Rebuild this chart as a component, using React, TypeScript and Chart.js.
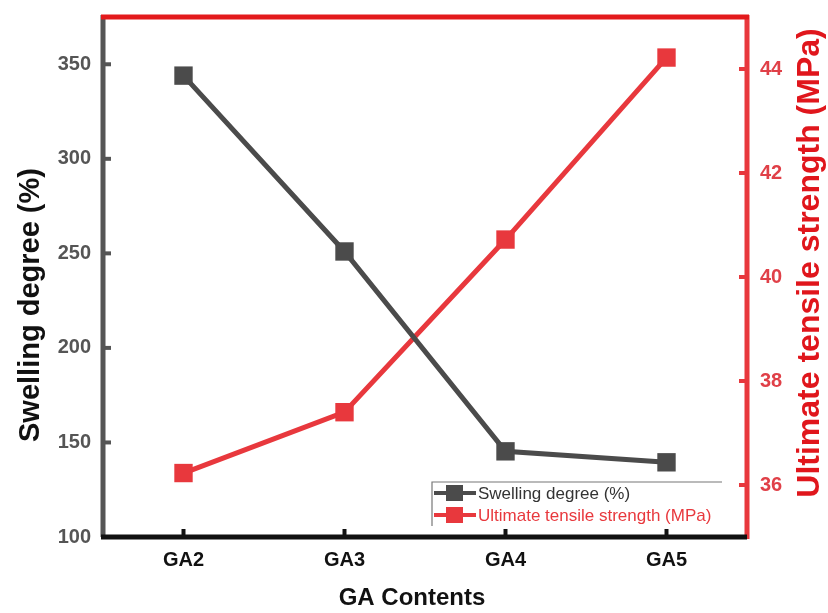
import React, { useEffect, useRef } from "react";
import { Chart, registerables } from "chart.js";

Chart.register(...registerables);

const categories = ["GA2", "GA3", "GA4", "GA5"];
const swellingDegree = [344, 251, 145.3, 139.5];
const tensileStrength = [36.23, 37.4, 40.72, 44.22];
const leftTicks = [100, 150, 200, 250, 300, 350];
const rightTicks = [36, 38, 40, 42, 44];

const GRAY = "#4b4b4b";
const RED = "#e8383d";
const FONT = "'Liberation Sans', Arial, sans-serif";

const decor = {
  id: "decor",
  afterDraw(chart: any) {
    const { ctx, chartArea: a, scales } = chart;
    const x = scales.x, y = scales.y, y1 = scales.y1;
    ctx.save();
    // tick marks (inward)
    ctx.lineWidth = 4;
    ctx.strokeStyle = "#555";
    y.ticks.forEach((t: any) => {
      const py = y.getPixelForValue(t.value);
      ctx.beginPath(); ctx.moveTo(a.left, py); ctx.lineTo(a.left + 8, py); ctx.stroke();
    });
    ctx.strokeStyle = RED;
    y1.ticks.forEach((t: any) => {
      const py = y1.getPixelForValue(t.value);
      ctx.beginPath(); ctx.moveTo(a.right, py); ctx.lineTo(a.right - 8, py); ctx.stroke();
    });
    ctx.strokeStyle = "#111";
    x.ticks.forEach((t: any, i: number) => {
      const px = x.getPixelForTick(i);
      ctx.beginPath(); ctx.moveTo(px, a.bottom); ctx.lineTo(px, a.bottom - 8); ctx.stroke();
    });
    // axis lines
    ctx.lineWidth = 5;
    ctx.strokeStyle = "#555";
    ctx.beginPath(); ctx.moveTo(a.left, a.top - 2); ctx.lineTo(a.left, a.bottom); ctx.stroke();
    ctx.strokeStyle = RED;
    ctx.beginPath(); ctx.moveTo(a.right, a.top - 2); ctx.lineTo(a.right, a.bottom + 2); ctx.stroke();
    ctx.strokeStyle = "#e31a1c";
    ctx.beginPath(); ctx.moveTo(a.left - 2, a.top); ctx.lineTo(a.right + 2, a.top); ctx.stroke();
    ctx.strokeStyle = "#111";
    ctx.beginPath(); ctx.moveTo(a.left - 2, a.bottom); ctx.lineTo(a.right, a.bottom); ctx.stroke();

    // axis titles
    ctx.textAlign = "center";
    ctx.textBaseline = "middle";
    ctx.fillStyle = "#111";
    ctx.font = `bold 29px ${FONT}`;
    ctx.save();
    ctx.translate(31, 305);
    ctx.rotate(-Math.PI / 2);
    ctx.fillText("Swelling degree (%)", 0, 0);
    ctx.restore();
    ctx.fillStyle = "#e0161c";
    ctx.font = `bold 32px ${FONT}`;
    ctx.save();
    ctx.translate(810, 263);
    ctx.rotate(-Math.PI / 2);
    ctx.fillText("Ultimate tensile strength (MPa)", 0, 0);
    ctx.restore();
    ctx.fillStyle = "#111";
    ctx.font = `bold 24px ${FONT}`;
    ctx.fillText("GA Contents", 412, 598);

    // legend
    const lx = 432, ly = 482, lw = 290;
    ctx.lineWidth = 1.2;
    ctx.strokeStyle = "#777";
    ctx.beginPath(); ctx.moveTo(lx + lw, ly); ctx.lineTo(lx, ly); ctx.lineTo(lx, 526); ctx.stroke();
    const items = [
      { label: chart.data.datasets[0].label, color: GRAY, text: "#333", yy: 493 },
      { label: chart.data.datasets[1].label, color: RED, text: RED, yy: 515 },
    ];
    items.forEach((it) => {
      ctx.strokeStyle = it.color;
      ctx.lineWidth = 4;
      ctx.beginPath(); ctx.moveTo(434, it.yy); ctx.lineTo(476, it.yy); ctx.stroke();
      ctx.fillStyle = it.color;
      ctx.fillRect(446, it.yy - 8, 17, 16);
      ctx.fillStyle = it.text;
      ctx.font = `17px ${FONT}`;
      ctx.textAlign = "left";
      ctx.fillText(it.label, 478, it.yy + 1);
    });
    ctx.restore();
  },
};

export default function App() {
  const ref = useRef<HTMLCanvasElement>(null);
  useEffect(() => {
    const chart = new Chart(ref.current!, {
      type: "line",
      data: {
        labels: categories,
        datasets: [
          {
            label: "Swelling degree (%)",
            data: swellingDegree,
            yAxisID: "y",
            borderColor: GRAY,
            backgroundColor: GRAY,
            borderWidth: 5,
            pointStyle: "rect",
            pointRadius: 13,
            pointBorderWidth: 0,
            tension: 0,
          },
          {
            label: "Ultimate tensile strength (MPa)",
            data: tensileStrength,
            yAxisID: "y1",
            borderColor: RED,
            backgroundColor: RED,
            borderWidth: 5,
            pointStyle: "rect",
            pointRadius: 13,
            pointBorderWidth: 0,
            tension: 0,
          },
        ],
      },
      options: {
        animation: false,
        responsive: false,
        maintainAspectRatio: false,
        layout: { padding: { top: 12, left: 0, right: 0, bottom: 0 } },
        plugins: { legend: { display: false }, tooltip: { enabled: false } },
        scales: {
          x: {
            offset: true,
            grid: { display: false },
            border: { display: false },
            ticks: { color: "#111", font: { family: FONT, size: 20, weight: "bold" }, padding: 3 },
            afterFit: (s: any) => { s.height = 76; },
          },
          y: {
            position: "left",
            min: 100,
            max: 375,
            grid: { display: false },
            border: { display: false },
            ticks: { color: "#555", font: { family: FONT, size: 20, weight: "bold" }, padding: 4 },
            afterBuildTicks: (s: any) => { s.ticks = leftTicks.map((v) => ({ value: v })); },
            afterFit: (s: any) => { s.width = 103; },
          },
          y1: {
            position: "right",
            min: 35,
            max: 45,
            grid: { display: false },
            border: { display: false },
            ticks: { color: "#e04048", font: { family: FONT, size: 20, weight: "bold" }, padding: 5 },
            afterBuildTicks: (s: any) => { s.ticks = rightTicks.map((v) => ({ value: v })); },
            afterFit: (s: any) => { s.width = 81; },
          },
        },
      },
      plugins: [decor],
    });
    return () => chart.destroy();
  }, []);
  return (
    <div style={{ position: "fixed", left: 0, top: 0, width: 828, height: 613, background: "#fff" }}>
      <canvas ref={ref} width={828} height={613} style={{ width: 828, height: 613 }} />
    </div>
  );
}
